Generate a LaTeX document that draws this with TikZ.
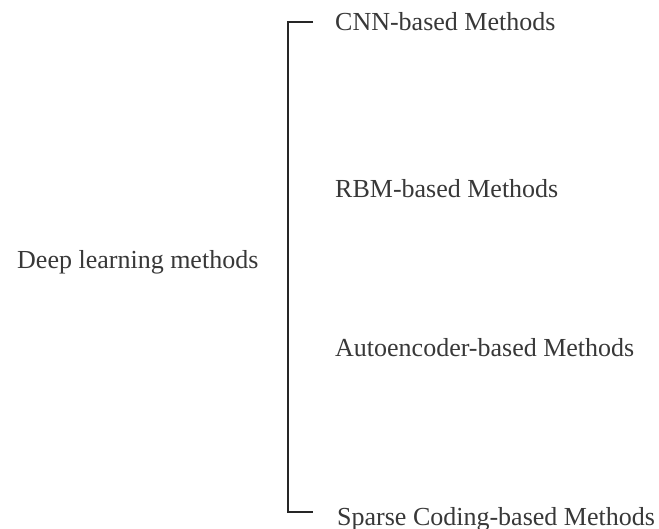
\documentclass[tikz,border=0pt]{standalone}
\usepackage{fontspec}
\setmainfont{Liberation Serif}
\begin{document}
\begin{tikzpicture}[x=1pt,y=-1pt,
  lbl/.style={anchor=base west,inner sep=0pt,font=\fontsize{26}{30}\selectfont,text=black!78},
  brk/.style={draw=black!85,line width=2.4pt}]
\useasboundingbox[fill=white] (0,0) rectangle (659,529);
\node[lbl] (deep) at (17,269) {Deep learning methods};
\node[lbl] (cnn) at (335,31) {CNN-based Methods};
\node[lbl] (rbm) at (335,198) {RBM-based Methods};
\node[lbl] (ae) at (335,357) {Autoencoder-based Methods};
\node[lbl] (sc) at (337,525) {Sparse Coding-based Methods};
\coordinate (tr) at (313,22);
\coordinate (tl) at (288,22);
\coordinate (bl) at (288,512);
\coordinate (br) at (313,512);
\draw[brk] (tr) -- (tl) -- (bl) -- (br);
\end{tikzpicture}
\end{document}
